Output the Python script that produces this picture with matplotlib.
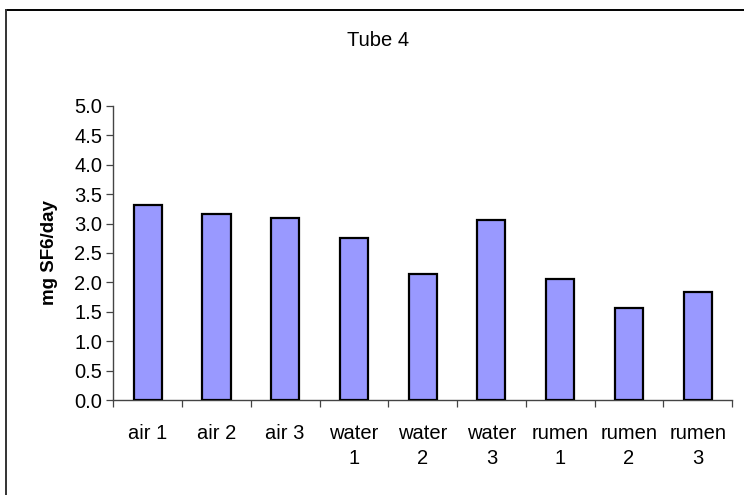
import matplotlib
matplotlib.use("Agg")
import matplotlib.pyplot as plt
from matplotlib.lines import Line2D

categories = ["air 1", "air 2", "air 3", "water\n1", "water\n2", "water\n3",
              "rumen\n1", "rumen\n2", "rumen\n3"]
values = [3.31, 3.16, 3.10, 2.75, 2.15, 3.06, 2.06, 1.57, 1.83]
yticks = [0.0, 0.5, 1.0, 1.5, 2.0, 2.5, 3.0, 3.5, 4.0, 4.5, 5.0]

plt.rcParams['font.family'] = ['Liberation Sans', 'DejaVu Sans']

W, H = 744, 495
fig = plt.figure(figsize=(W / 100, H / 100), dpi=100)

# outer frame (top and left edges visible)
top_y = 1 - 9.5 / H
left_x = 6.5 / W
fig.add_artist(Line2D([left_x, 1.0], [top_y, top_y], transform=fig.transFigure,
                      color='black', linewidth=1.4))
fig.add_artist(Line2D([left_x, left_x], [0.0, top_y], transform=fig.transFigure,
                      color='#333333', linewidth=1.4))

ax = fig.add_axes([113.3 / W, 1 - 400 / H, (732 - 113.3) / W, (400 - 106) / H])

x = list(range(len(values)))
ax.bar(x, values, width=0.41, color='#9999ff', edgecolor='black', linewidth=1.6, zorder=3)

fs = 14.5
ax.set_xlim(-0.5, len(values) - 0.5)
ax.set_ylim(0, 5.0)
ax.set_yticks(yticks)
ax.set_yticklabels([f"{v:.1f}" for v in yticks], fontsize=fs)

ax.set_xticks([i + 0.5 for i in range(-1, len(values))], minor=False)
ax.set_xticklabels([])
ax.set_xticks(x, minor=True)
ax.set_xticklabels(categories, minor=True, fontsize=fs, linespacing=1.4, va='top')
ax.tick_params(axis='x', which='minor', length=0, pad=17)
ax.tick_params(axis='x', which='major', length=5, width=0.9, direction='out', color='#444444')
ax.tick_params(axis='y', length=5, width=0.9, direction='out', color='#444444', pad=3)

for s in ['top', 'right']:
    ax.spines[s].set_visible(False)
for s in ['left', 'bottom']:
    ax.spines[s].set_color('#444444')
    ax.spines[s].set_linewidth(1.0)

ax.set_ylabel("mg SF6/day", fontsize=13.5, fontweight='bold', labelpad=12)
fig.text(378 / W, 1 - 40 / H, "Tube 4", ha='center', va='center', fontsize=fs)

fig.savefig("out.png", dpi=100)
